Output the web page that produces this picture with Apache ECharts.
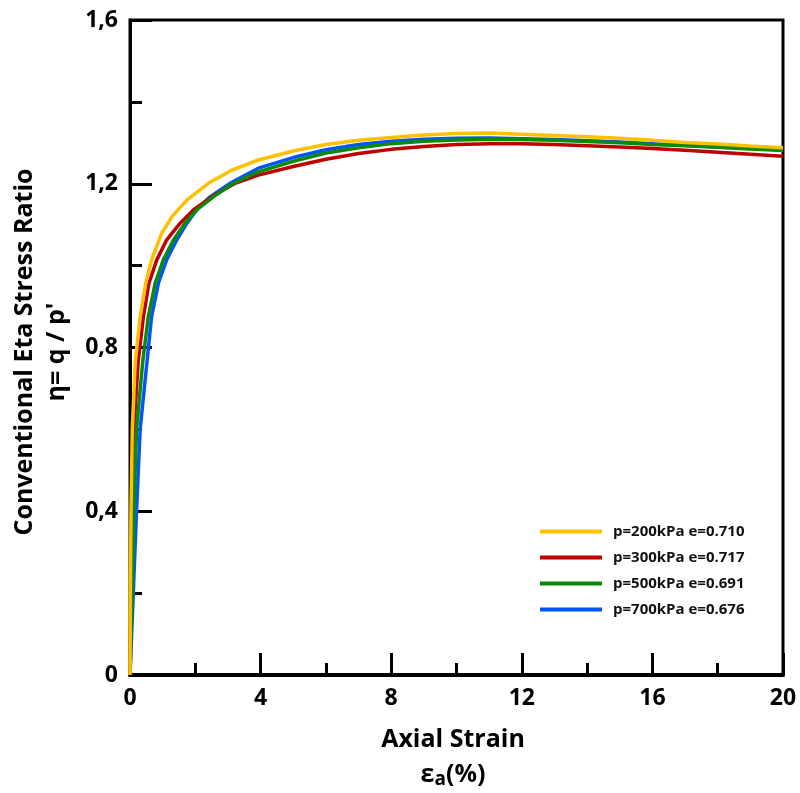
<!DOCTYPE html>
<html>
<head>
<meta charset="utf-8">
<script src="https://cdn.jsdelivr.net/npm/echarts@6/dist/echarts.min.js"></script>
<style>html,body{margin:0;padding:0;background:#fff}#c{width:800px;height:793px}</style>
</head>
<body>
<div id="c"></div>
<script>
const seriesNames = ['p=200kPa e=0.710', 'p=300kPa e=0.717', 'p=500kPa e=0.691', 'p=700kPa e=0.676'];
const seriesColors = ['#FFC000', '#C00000', '#0A8A0A', '#0055FF'];
const xTicks = [0, 4, 8, 12, 16, 20];
const yTickLabels = {0: '0', 0.4: '0,4', 0.8: '0,8', 1.2: '1,2', 1.6: '1,6'};

const p200 = [[0,0],[0.01,0.2],[0.03,0.4],[0.07,0.6],[0.16,0.765],[0.31,0.875],[0.48,0.957],[0.66,1.014],[0.97,1.079],[1.28,1.119],[1.74,1.16],[2.4,1.201],[3.11,1.233],[3.93,1.258],[5,1.28],[6,1.296],[7,1.306],[8,1.313],[9,1.319],[10,1.323],[11,1.324],[12,1.321],[13,1.318],[14,1.315],[15,1.311],[16,1.306],[17,1.301],[18,1.297],[19,1.292],[20,1.288]];
const p300 = [[0,0],[0.03,0.2],[0.06,0.4],[0.12,0.6],[0.25,0.765],[0.41,0.875],[0.58,0.957],[0.82,1.014],[1.12,1.0625],[1.53,1.103],[1.94,1.136],[2.5,1.168],[3.22,1.201],[3.93,1.221],[5,1.242],[6,1.26],[7,1.274],[8,1.284],[9,1.291],[10,1.296],[11,1.298],[12,1.298],[13,1.296],[14,1.293],[15,1.29],[16,1.286],[17,1.282],[18,1.277],[19,1.272],[20,1.267]];
const p500 = [[0,0],[0.07,0.2],[0.12,0.4],[0.2,0.6],[0.39,0.765],[0.56,0.875],[0.77,0.957],[1.02,1.014],[1.33,1.0625],[1.68,1.103],[2.04,1.136],[2.55,1.168],[3.16,1.201],[3.93,1.229],[5,1.255],[6,1.275],[7,1.288],[8,1.298],[9,1.304],[10,1.307],[11,1.309],[12,1.308],[13,1.306],[14,1.303],[15,1.3],[16,1.296],[17,1.293],[18,1.289],[19,1.285],[20,1.281]];
const p700 = [[0,0],[0.1,0.2],[0.2,0.4],[0.31,0.6],[0.52,0.765],[0.66,0.875],[0.87,0.957],[1.12,1.014],[1.43,1.0625],[1.74,1.103],[2.04,1.136],[2.45,1.168],[3.06,1.201],[3.93,1.238],[5,1.264],[6,1.283],[7,1.296],[8,1.304],[9,1.309],[10,1.311],[11,1.312],[12,1.31],[13,1.308],[14,1.305],[15,1.302],[16,1.298],[17,1.294],[18,1.29],[19,1.286],[20,1.283]];
const allData = [p200, p300, p500, p700];

const FONT = '"Open Sans", "DejaVu Sans", sans-serif';
const chart = echarts.init(document.getElementById('c'), null, {renderer: 'canvas'});
chart.setOption({
  backgroundColor: '#fff',
  animation: false,
  grid: {left: 130, right: 17, top: 20, bottom: 118, show: true, borderColor: '#000', borderWidth: 3, backgroundColor: 'transparent'},
  xAxis: {
    type: 'value', min: 0, max: 20, interval: 4,
    axisLine: {show: true, lineStyle: {color: '#000', width: 4}},
    axisTick: {show: true, inside: true, length: 22, lineStyle: {color: '#000', width: 3}},
    minorTick: {show: true, splitNumber: 2, length: 12, lineStyle: {color: '#000', width: 3}},
    splitLine: {show: false},
    axisLabel: {color: '#000', fontSize: 23, fontWeight: 'bold', fontFamily: FONT, margin: 12,
      formatter: v => xTicks.includes(v) ? String(v) : ''}
  },
  yAxis: {
    type: 'value', min: 0, max: 1.6, interval: 0.4,
    axisLine: {show: true, lineStyle: {color: '#000', width: 3}},
    axisTick: {show: true, inside: true, length: 22, lineStyle: {color: '#000', width: 3}},
    minorTick: {show: true, splitNumber: 2, length: 12, lineStyle: {color: '#000', width: 3}},
    splitLine: {show: false},
    axisLabel: {color: '#000', fontSize: 23, fontWeight: 'bold', fontFamily: FONT, margin: 12,
      formatter: v => { const k = Math.round(v*10)/10; return yTickLabels[k] !== undefined ? yTickLabels[k] : ''; }}
  },
  legend: {
    orient: 'vertical', left: 535, top: 519, itemWidth: 62, itemHeight: 4, itemGap: 11, icon: 'rect',
    textStyle: {color: '#111', fontSize: 15, fontWeight: 'bold', fontFamily: FONT, padding: [0,0,0,6]},
    data: seriesNames
  },
  series: allData.map((d, i) => ({
    name: seriesNames[i], type: 'line', data: d, showSymbol: false, symbol: 'none',
    smooth: false,
    lineStyle: {color: seriesColors[i], width: 3.5}, itemStyle: {color: seriesColors[i]},
    z: [5, 3, 4, 2][i]
  })),
  graphic: [
    {type: 'text', x: 25, y: 352, rotation: Math.PI/2,
      style: {text: 'Conventional Eta Stress Ratio', fill: '#000', font: 'bold 25px ' + FONT, textAlign: 'center', textVerticalAlign: 'middle'}},
    {type: 'text', x: 57, y: 352, rotation: Math.PI/2,
      style: {text: "η= q / p'", fill: '#000', font: 'bold 25px ' + FONT, textAlign: 'center', textVerticalAlign: 'middle'}},
    {type: 'text', x: 453, y: 740,
      style: {text: 'Axial Strain', fill: '#000', font: 'bold 25px ' + FONT, textAlign: 'center', textVerticalAlign: 'middle'}},
    {type: 'text', x: 453, y: 775,
      style: {text: '{e|ε}{s|a}{e|(%)}', textAlign: 'center', textVerticalAlign: 'middle',
        rich: {e: {fill: '#000', font: 'bold 25px ' + FONT, lineHeight: 32},
               s: {fill: '#000', font: 'bold 19px ' + FONT, lineHeight: 32, padding: [10,0,0,0]}}}}
  ]
});
</script>
</body>
</html>
